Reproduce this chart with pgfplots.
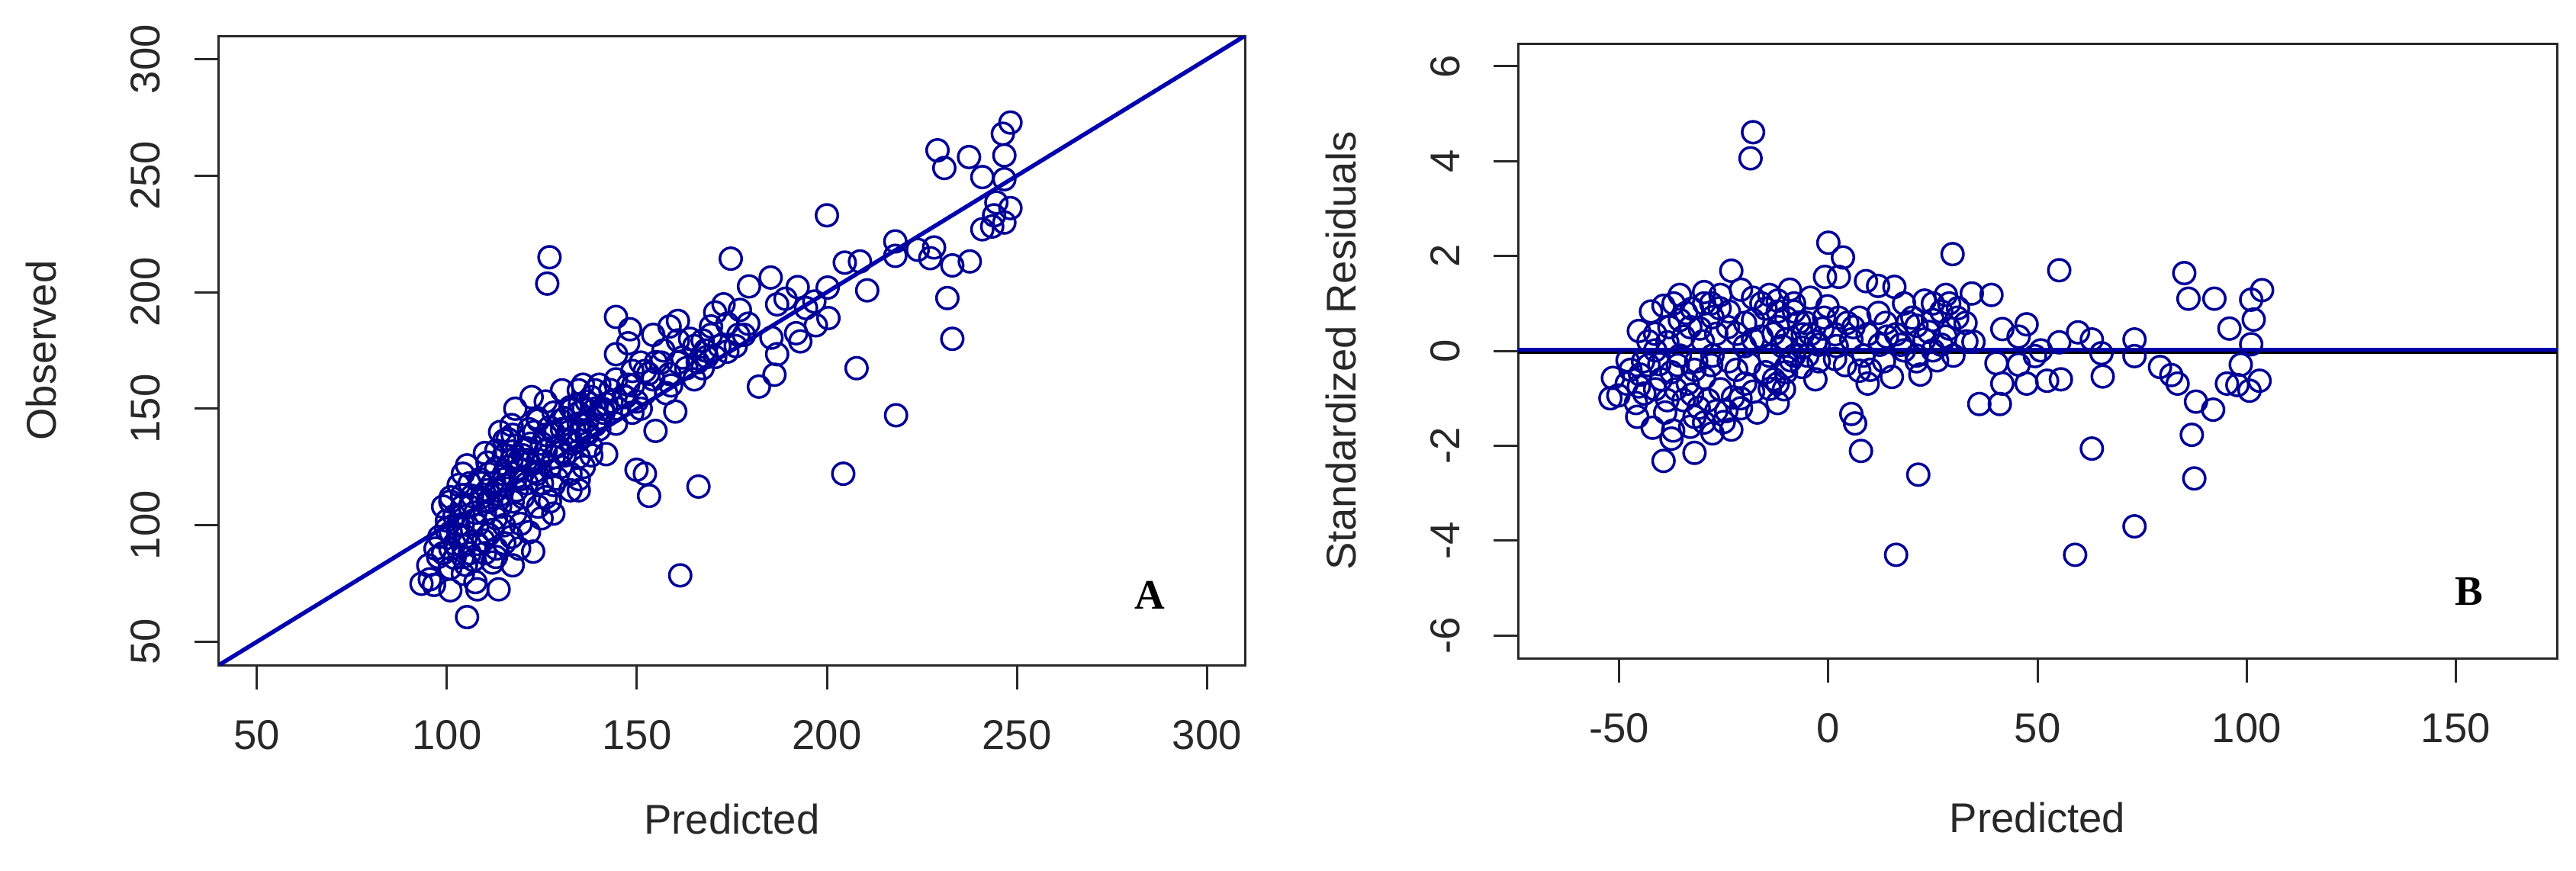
\documentclass[border=0pt]{standalone}
\usepackage{fontspec}
\setmainfont{Liberation Sans}
\newfontfamily\letterfont{Liberation Serif}
\usepackage{pgfplots}
\pgfplotsset{compat=1.18}

\definecolor{ptblue}{RGB}{0,0,150}
\definecolor{lnblue}{RGB}{0,0,175}
\definecolor{axgray}{RGB}{40,40,40}

\pgfplotsset{
  rplot/.style={
    scale only axis,
    axis line style={line width=0.6pt, axgray},
    tick pos=left, tick align=outside,
    major tick length=6.4pt,
    every tick/.style={line width=0.6pt, axgray},
    ticklabel style={font=\fontsize{10.9}{12}\selectfont, text=axgray},
    label style={font=\fontsize{10.9}{12}\selectfont, text=axgray},
    xticklabel style={anchor=base, inner sep=0pt},
    yticklabel style={rotate=90, anchor=base, inner sep=0pt},
    xticklabel shift=15.6pt,
    yticklabel shift=9pt,
  },
  pts/.style={only marks, mark=o, mark size=2.85pt,
    mark options={line width=0.7pt, ptblue}},
}

\begin{document}
\begin{tikzpicture}
\useasboundingbox (0,0) rectangle (675.4pt,228.2pt);

% A: observed against predicted
\begin{axis}[rplot,
  at={(57.4pt,53.8pt)}, anchor=south west,
  width=269pt, height=165pt,
  xmin=40, xmax=310, ymin=40, ymax=310,
  xtick={50,100,150,200,250,300},
  xticklabels={50,100,150,200,250,300},
  ytick={50,100,150,200,250,300},
  yticklabels={50,100,150,200,250,300},
  xlabel={Predicted}, ylabel={Observed},
  xlabel style={at={(axis description cs:0.5,-0.268)}, anchor=base},
  ylabel style={at={(axis description cs:-0.159,0.5)}, anchor=base},
]
\addplot[pts] coordinates {
(127,215) (126.4,203.7) (200,233) (174.7,214.4) (185.2,206.3) (179.5,202.5)
(192.3,202.2) (200.2,202) (210.6,200.8) (204.7,212.7) (208.7,213.2) (218,221.8)
(218,215.6) (223.9,218.2) (228.2,219.2) (227.2,214.6) (233,211.5) (237.6,213.2)
(231.7,197.5) (233,180) (229.1,260.9) (230.9,253.3) (237.4,258) (240.9,249.4)
(246.3,268) (248.3,272.8) (246.7,258.7) (246.7,248.5) (244.6,238.5) (248.3,236.1)
(240.9,227) (243.5,228.2) (246.7,229.9) (244,233) (207.8,167.4) (218.2,147.2)
(204.3,122.1) (161.4,78.5) (166.2,116.6) (153.2,112.6) (149.9,123.8) (152.1,122.1)
(141.9,130.5) (160.1,148.8) (154.9,140.5) (122.3,155) (182.1,159.5) (186.2,164.6)
(186.9,173.4) (193,178.9) (185.4,180.5) (191.9,182.4) (197.1,185.8) (200.4,188.9)
(194.5,193.2) (186.9,194.8) (189.1,197.2) (196.7,196) (144.5,189.4) (148.2,184.1)
(154.3,181.7) (144.5,173.4) (147.7,178.1) (158.6,185.3) (160.8,187.7) (172.8,194.8)
(170.6,191.3) (173.8,186.5) (177.1,192.4) (176.7,181.7) (171.7,176.9) (168.4,172.2)
(165.1,162.6) (167.3,167.4) (163,167.4) (157.7,156.7) (152.1,156.7) (148.8,148.3)
(144.5,143.6) (141.2,148.3) (139,157.9) (135.8,160.3) (136.8,153.1) (147.7,160.3)
(154.3,162.6) (156.4,169.8) (151,169.8) (165.1,176.9) (160.8,179.3) (134.7,143.6)
(132.5,136.4) (130.3,131.6) (134.7,129.3) (132.5,122.1) (134.7,115) (128.1,117.3)
(124.9,103) (121.6,97) (122.7,88.7) (117.3,82.8) (113.6,72.5) (105.3,60.6)
(108,72.5) (107.5,75.6) (100.9,72.1) (95.5,76.8) (93.3,74.9) (95.1,82.8)
(97.7,86.4) (100.9,90) (104.2,79.2) (112.9,86.4) (104.2,91.2) (109.6,93.5)
(115.1,92.3) (119.4,100.6) (104.2,122.1) (105.3,125.7) (103.1,117.3) (100.9,110.2)
(107.5,105.4) (110.7,110.2) (104.2,100.6) (99.8,98.3) (112.9,103) (117.3,110.2)
(115.1,119.8) (110.7,115) (110.7,126.9) (115.1,136.4) (117.3,131.6) (121.6,126.9)
(123.8,122.1) (128.1,129.3) (126,138.8) (121.6,141.2) (123.8,146) (128.1,148.3)
(132.5,150.7) (130.3,141.2) (134.7,148.3) (117.3,138.8) (119.4,119.8) (112.9,124.5)
(115.1,117.3) (108.7,119.8) (106.6,112.6) (118.3,115) (127.1,110.2) (132.5,115)
(134.7,119.8) (137.9,134) (136.8,138.8) (140.1,141.2) (143.3,153.1) (146.5,155.5)
(149.9,153.1) (140.1,160.3) (144.5,162.6) (152.1,166.2) (148.8,166.2) (134.7,157.9)
(126,153.1) (130.3,157.9) (158.6,164.9) (160.8,169.8) (170.6,172.2) (169.5,181.7)
(167.3,179.3) (173.8,174.5) (176,176.9) (178.2,181.7) (179.3,186.5) (169.5,185.3)
(134.7,136.4) (104.2,86.4) (100.9,81.6) (96.6,74.4)
(105,95) (108,100) (110,105) (112,98) (114,108) (106,88) (102,104) (109,112)
(116,125) (118,120) (120,130) (122,135) (124,128) (126,132) (128,140) (130,145)
(132,140) (120,112) (118,105) (125,118) (127,125) (129,120) (131,130) (133,135)
(135,140) (137,145) (139,150) (140,146) (142,152) (138,155) (136,150) (112,118)
(114,113) (108,92) (104,108) (103,96) (107,102) (111,96) (113,90) (115,100)
(117,95) (121,118) (123,123) (119,128) (121,133) (116,137) (114,140) (117,143)
(113,132) (111,122) (106,118) (104,113) (98,95) (100,102) (97,90) (102,86)
(99,108) (101,112)
(103,100) (106,108) (109,118) (111,110) (113,115) (115,122) (117,128) (119,124)
(121,128) (123,140) (125,135) (127,142) (129,134) (131,146) (133,150) (135,152)
(137,140) (139,143) (141,150) (143,158) (145,150) (147,155) (149,160) (151,150)
(153,165) (155,170) (157,175) (159,160) (162,172) (164,180) (166,170) (168,175)
(110,88) (112,84) (107,85) (105,83) (119,90) (124,108) (126,112) (128,105)
(130,125) (136,125) (138,130) (124,145) (118,150) (115,130) (110,131) (102,92)
(99,88) (101,97)
};
\addplot[lnblue, line width=1.1pt] coordinates {(40,40) (310,310)};
\node[anchor=base, font=\letterfont\bfseries\fontsize{11}{12}\selectfont]
  at (axis description cs:0.907,0.0885) {A};
\end{axis}

% B: standardized residuals against predicted
\begin{axis}[rplot,
  at={(398pt,55.6pt)}, anchor=south west,
  width=272.4pt, height=161.2pt,
  xmin=-74.2, xmax=174.2, ymin=-6.48, ymax=6.48,
  xtick={-50,0,50,100,150},
  xticklabels={-50,0,50,100,150},
  ytick={-6,-4,-2,0,2,4,6},
  yticklabels={-6,-4,-2,0,2,4,6},
  xlabel={Predicted}, ylabel={Standardized Residuals},
  xlabel style={at={(axis description cs:0.5,-0.283)}, anchor=base},
  ylabel style={at={(axis description cs:-0.156,0.5)}, anchor=base},
]
\addplot[pts] coordinates {
(-18,4.61) (-18.6,4.06) (0,2.28) (3.5,1.97) (2.5,1.56) (-0.8,1.56) (-23.2,1.69)
(29.7,2.04) (55.2,1.70) (85.1,1.64) (86.1,1.10) (92.3,1.10) (103.7,1.28)
(101.1,1.08) (101.7,0.66) (95.9,0.47) (101.1,0.14) (98.6,-0.29) (95.3,-0.69)
(97.8,-0.72) (100.7,-0.84) (103.1,-0.63) (87.9,-1.07) (92,-1.24) (86.9,-1.77)
(87.5,-2.69) (73.2,-3.70) (59,-4.30) (16.2,-4.30) (21.5,-2.61) (63,-2.06)
(7.8,-2.11) (5.5,-1.33) (6.4,-1.53) (36.1,-1.12) (41,-1.12) (41.6,-0.69)
(47.4,-0.69) (52.3,-0.63) (55.6,-0.60) (65.6,-0.54) (79.3,-0.34) (82,-0.51)
(83.5,-0.69) (73.2,0.24) (73.2,-0.11) (63,0.24) (59.7,0.39) (65.3,-0.05)
(55.2,0.18) (50.8,0.01) (49.4,-0.11) (45.5,-0.29) (47.4,0.56) (45.5,0.30)
(41.6,0.46) (40.2,-0.26) (39.0,1.18) (34.3,1.21) (28.1,1.18) (18.1,1.0)
(13.7,0.59) (15.8,1.35) (11.9,1.37) (9.0,1.47) (15.2,-0.55) (9.4,-0.69)
(7.4,-0.42) (-3.1,-0.60) (1.6,-0.17) (-6.1,0.35) (-10.1,0.70) (-9.2,1.29)
(-4.3,1.12) (-14.1,1.18) (-18,1.12) (-29.7,1.24) (-32.6,0.89) (-39.4,0.95)
(-42.4,0.83) (-35.5,0.65) (-45.3,0.42) (-41.4,0.36) (-51.5,-0.57) (-50.2,-0.94)
(-52.1,-1.0) (-48.2,-0.69) (-45.3,-0.75) (-41.4,-0.81) (-45.7,-1.39) (-42,-1.62)
(-39.4,-2.32) (-37.5,-1.85) (-37.1,-1.68) (-32.0,-2.15) (-27.7,-1.74) (-23.2,-1.66)
(-24.4,-1.27) (-32,-1.39) (-34.6,-1.04) (-38.5,-1.04) (-20.9,-1.21) (-18,-0.86)
(-12.1,-1.10) (-10.6,-0.81) (-12.1,-0.69) (-10.1,-0.45) (-15,-0.45) (-19.9,-0.69)
(-25.8,-0.81) (-29.7,-0.57) (-33.6,-0.69) (-37.5,-0.45) (-35.5,-0.10) (-31.6,-0.22)
(-27.7,-0.10) (-23.8,-0.22) (-18.9,-0.28) (-14.1,-0.10) (-8.2,-0.10) (-6.3,0.07)
(-2.3,0.13) (-5.3,0.59) (-1.4,0.47) (2.5,0.70) (4.5,0.59) (7.4,0.70) (9.4,0.35)
(12.3,0.13) (18.1,0.01) (21.1,-0.10) (23,0.24) (21.1,0.53) (25,0.65) (27,0.83)
(28.9,0.47) (30.8,0.70) (32.8,0.59) (28.9,1.0) (25,1.0) (23,1.06) (20.1,0.70)
(16.2,0.35) (27,0.13) (29.9,-0.10) (25,0.01) (34.7,0.19) (21.1,-0.22) (17.3,0.13)
(-18,0.65) (-15,0.89) (-12.1,0.83) (-8.2,0.83) (-19.9,0.59) (-23.8,0.83)
(-27.7,0.71) (-30.7,0.47) (-26.8,0.36) (-21.9,0.36) (-18,0.24) (-13.1,0.36)
(-10.1,0.24) (-34.6,0.30) (-38.5,0.18) (-41.4,0.01) (-44.3,-0.22) (-47.3,-0.40)
(-40.4,-0.28) (-36.5,-0.81) (-32.6,-0.92) (-28.7,-1.04) (-26.8,-1.27) (-29.7,-1.51)
(-22.8,-0.98) (-20.9,1.29) (-25.8,1.18) (-29.7,1.0) (-12.1,1.06) (-8.2,1.0)
(-35.5,1.18) (-10.1,-0.34) (-6.3,-0.34) (-2.3,-0.22) (-4.3,0.35) (1.6,0.35)
(5.5,0.24) (8.4,-0.10) (13.3,-0.22) (-0.2,0.94)
(-45,-0.5) (-43,0.2) (-40,-0.6) (-38,0.5) (-36,-0.3) (-34,0.8) (-32,-0.4)
(-30,0.2) (-28,-0.3) (-26,0.9) (-24,0.5) (-22,-0.4) (-20,0.1) (-16,0.3)
(-14,-0.8) (-12,0.5) (-9,-0.2) (-7,0.6) (-5,-0.1) (-3,0.2) (-1,0.7) (2,0.1)
(4,-0.3) (6,0.5) (10,-0.4) (12,0.8) (14,0.3) (19,0.6) (22,-0.5) (24,0.4)
(26,-0.2) (28,0.3) (31,0.9) (33,0.2) (-46,-1.1) (-44,-0.9) (-39,-1.3) (-33,-1.6)
(-31,-1.2) (-25,-1.5) (-21,-1.0) (-17,-1.3) (-13,-0.6) (-11,0.1) (-33,0.5)
(-37,1.0) (-28,1.0) (-16,1.0) (-43,-0.3) (-48,-0.2)
};
\addplot[black, line width=1.6pt] coordinates {(-74.2,0) (174.2,0)};
\addplot[lnblue, line width=1.0pt] coordinates {(-74.2,0.03) (174.2,0.03)};
\node[anchor=base, font=\letterfont\bfseries\fontsize{11}{12}\selectfont]
  at (axis description cs:0.9156,0.0868) {B};
\end{axis}
\end{tikzpicture}
\end{document}
